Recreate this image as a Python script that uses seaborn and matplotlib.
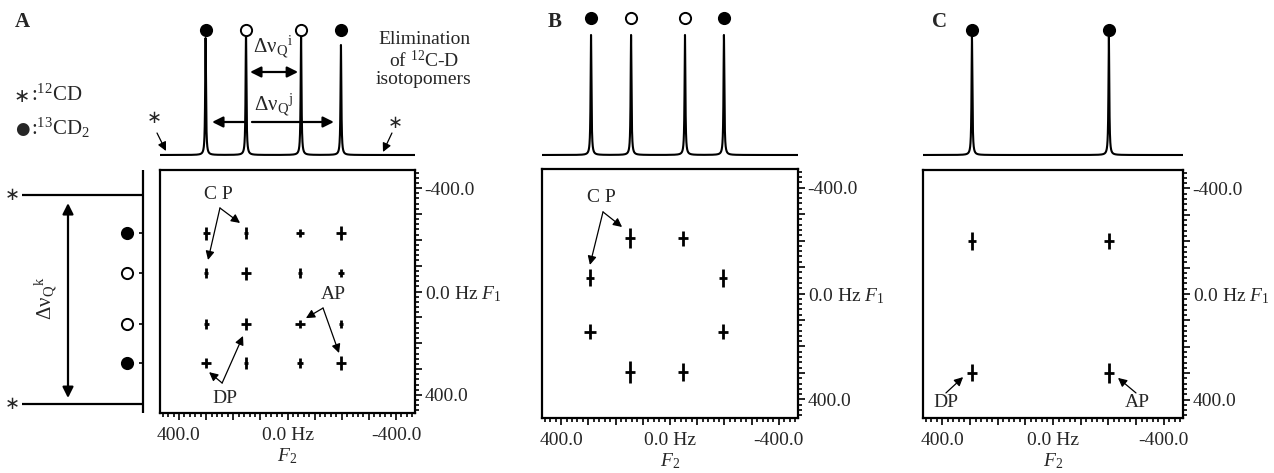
import numpy as np
import pandas as pd
import seaborn as sns
import matplotlib.pyplot as plt
from matplotlib.ticker import MultipleLocator, FuncFormatter

# ---------------- values (Hz) ----------------
# panel A : 4 x 4 pattern of cross peaks
a_f2 = [300, 153, -46, -197]
a_f1 = [-226, -71, 126, 277]
# half length of the cross arms (one row per F1 value)
a_arm_f1 = [[25, 22, 16, 27],
            [19, 25, 19, 16],
            [19, 22, 16, 17],
            [19, 23, 19, 28]]
a_arm_f2 = [[13, 9, 13, 18],
            [8, 17, 9, 11],
            [9, 17, 19, 9],
            [18, 6, 11, 18]]
a_lines = [302, 153, -50, -197]
a_heights = [1.17, 1.24, 1.22, 1.10]
a_filled = [True, False, False, True]
a_12cd_f1 = [-373, 436]

# panel B : 8 cross peaks
b_f2 = [147, -48, 294, -195, 294, -195, 147, -48]
b_f1 = [-209, -209, -59, -59, 145, 145, 296, 296]
b_arm_f1 = [38, 28, 32, 33, 28, 28, 41, 35]
b_arm_f2 = [17, 18, 14, 15, 23, 17, 19, 18]
b_lines = [290, 143, -55, -198]
b_heights = [1.20, 1.20, 1.20, 1.20]
b_filled = [True, False, False, True]

# panel C : 4 cross peaks
c_f2 = [293, -202, 293, -202]
c_f1 = [-201, -201, 299, 299]
c_arm_f1 = [35, 30, 32, 38]
c_arm_f2 = [13, 19, 18, 17]
c_lines = [293, -202]
c_heights = [1.18, 1.18]
c_filled = [True, True]

W, H = 1274, 473
sns.set_style('ticks')
plt.rcParams['font.family'] = ['Liberation Serif', 'DejaVu Sans']
plt.rcParams['mathtext.fontset'] = 'custom'
plt.rcParams['mathtext.rm'] = 'Liberation Serif'
plt.rcParams['mathtext.it'] = 'Liberation Serif:italic'
plt.rcParams['mathtext.bf'] = 'Liberation Serif:bold'
plt.rcParams['axes.unicode_minus'] = False

fig = plt.figure(figsize=(W / 100, H / 100), dpi=100)


def box(l, t, r, b):
    return fig.add_axes([l / W, 1 - b / H, (r - l) / W, (b - t) / H])


def ftext(x, y, s, **kw):
    fig.text(x / W, 1 - y / H, s, **kw)


def spectrum(lines, heights, gamma=1.8):
    x = np.arange(470, -470.01, -0.2)
    y = np.zeros_like(x)
    for x0, h in zip(lines, heights):
        y += h * gamma ** 2 / ((x - x0) ** 2 + gamma ** 2)
    return pd.DataFrame({'Hz': x, 'I': y})


def dots(ax, x, y, filled, s=65):
    df = pd.DataFrame({'x': x, 'y': y, 'filled': filled})
    for f, grp in df.groupby('filled'):
        sns.scatterplot(data=grp, x='x', y='y', ax=ax, s=s, marker='o',
                        facecolor='black' if f else 'white',
                        edgecolor='black', linewidth=1.4, zorder=5, clip_on=False)


def draw_1d(ax, lines, heights, filled, dot_level):
    sns.lineplot(data=spectrum(lines, heights), x='Hz', y='I', ax=ax,
                 color='black', lw=1.5, estimator=None, sort=False)
    dots(ax, lines, [dot_level] * len(lines), filled)
    ax.set_xlim(470, -470)
    ax.set_ylim(-0.05, 1.5)
    ax.axis('off')


def fmt_x(v, p):
    return {400: '400.0', 0: '0.0 Hz', -400: '-400.0'}.get(int(round(v)), '')


def fmt_y(v, p):
    return {400: '400.0', 0: '0.0 Hz $F_1$', -400: '-400.0'}.get(int(round(v)), '')


def setup_2d(ax):
    ax.set_xlim(470, -470)
    ax.set_ylim(470, -470)
    ax.yaxis.tick_right()
    for a in (ax.xaxis, ax.yaxis):
        a.set_major_locator(MultipleLocator(100))
        a.set_minor_locator(MultipleLocator(20))
    ax.xaxis.set_major_formatter(FuncFormatter(fmt_x))
    ax.yaxis.set_major_formatter(FuncFormatter(fmt_y))
    ax.tick_params(which='both', direction='out', width=1.2, labelsize=14,
                   color='black')
    ax.tick_params(axis='x', pad=5)
    ax.tick_params(axis='y', pad=2)
    ax.tick_params(which='major', length=5)
    ax.tick_params(which='minor', length=3)
    for sp in ax.spines.values():
        sp.set_visible(True)
        sp.set_linewidth(1.6)
        sp.set_color('black')
    ax.set_xlabel('$F_2$', fontsize=14, labelpad=2)
    ax.set_ylabel('')


def crosses(ax, x, y, ax_f2, ax_f1):
    ax.errorbar(x, y, xerr=ax_f2, yerr=ax_f1, fmt='none', ecolor='black',
                elinewidth=2.0, capsize=0)


arrow = dict(arrowstyle='-|>', color='black', lw=0.9, mutation_scale=13,
             shrinkA=0, shrinkB=0)
bold_arrow = dict(arrowstyle='-|>', color='black', lw=1.6, mutation_scale=16,
                  shrinkA=0, shrinkB=0)
bold_double = dict(arrowstyle='<|-|>', color='black', lw=1.6, mutation_scale=16,
                   shrinkA=0, shrinkB=0)


def label_arrows(ax, text, pos, start, ends):
    ax.text(pos[0], pos[1], text, ha='center', va='center', fontsize=14)
    for e in ends:
        ax.annotate('', xy=e, xytext=start, arrowprops=arrow)


# ---------------- panel A ----------------
a1 = box(160, 5, 415, 160)
draw_1d(a1, a_lines, a_heights, a_filled, 1.25)
a1.annotate('', xy=(-39, 0.83), xytext=(138, 0.83), arrowprops=bold_double)
a1.text(53, 1.08, 'Δν$_\\mathrm{Q}$$^\\mathrm{i}$', ha='center', va='center', fontsize=15)
a1.text(53, 0.50, 'Δν$_\\mathrm{Q}$$^\\mathrm{j}$', ha='center', va='center', fontsize=15)
a1.annotate('', xy=(278, 0.33), xytext=(157, 0.33), arrowprops=bold_arrow)
a1.annotate('', xy=(-171, 0.33), xytext=(131, 0.33), arrowprops=bold_arrow)
a1.text(492, 0.37, '∗', ha='center', va='center', fontsize=13, clip_on=False)
a1.annotate('', xy=(448, 0.04), xytext=(481, 0.22), arrowprops=arrow, annotation_clip=False)
a1.text(-396, 0.32, '∗', ha='center', va='center', fontsize=13, clip_on=False)
a1.annotate('', xy=(-352, 0.03), xytext=(-385, 0.22), arrowprops=arrow, annotation_clip=False)

a2 = box(160, 170, 415, 413)
grid_f2 = [f for row in a_f1 for f in a_f2]
grid_f1 = [r for r in a_f1 for f in a_f2]
crosses(a2, grid_f2, grid_f1,
        [v for row in a_arm_f2 for v in row], [v for row in a_arm_f1 for v in row])
setup_2d(a2)
label_arrows(a2, 'C P', (256, -377), (249, -323), [(293, -122), (175, -265)])
label_arrows(a2, 'DP', (230, 412), (241, 354), [(289, 312), (164, 172)])
label_arrows(a2, 'AP', (-168, 10), (-131, 64), [(-68, 103), (-190, 238)])

# F1 projection on the left of A
al = box(0, 170, 150, 413)
al.set_xlim(0, 150)
al.set_ylim(470, -470)
al.axis('off')
al.axvline(143, color='black', lw=1.6)
al.hlines(a_12cd_f1, 22, 143, color='black', lw=1.6)
al.hlines(a_f1, 139, 143, color='black', lw=1.2)
dots(al, [127] * 4, a_f1, a_filled)
al.annotate('', xy=(68, 412), xytext=(68, -342), arrowprops=bold_double)
al.text(46, 25, 'Δν$_\\mathrm{Q}$$^\\mathrm{k}$', rotation=90, ha='center',
        va='center', fontsize=15)
for f in a_12cd_f1:
    al.text(12, f, '∗', ha='center', va='center', fontsize=13)

# ---------------- panel B ----------------
b1 = box(542, 5, 798, 160)
draw_1d(b1, b_lines, b_heights, b_filled, 1.37)
b2 = box(542, 169, 798, 418)
crosses(b2, b_f2, b_f1, b_arm_f2, b_arm_f1)
setup_2d(b2)
label_arrows(b2, 'C P', (253, -361), (246, -308), [(294, -108), (176, -251)])

# ---------------- panel C ----------------
c1 = box(923, 5, 1183, 160)
draw_1d(c1, c_lines, c_heights, c_filled, 1.25)
c2 = box(923, 170, 1183, 418)
crosses(c2, c_f2, c_f1, c_arm_f2, c_arm_f1)
setup_2d(c2)
label_arrows(c2, 'DP', (387, 413), (387, 375), [(325, 315)])
label_arrows(c2, 'AP', (-304, 413), (-300, 375), [(-235, 318)])

# ---------------- free text ----------------
ftext(15, 22, 'A', fontsize=15, fontweight='bold', va='center')
ftext(548, 22, 'B', fontsize=15, fontweight='bold', va='center')
ftext(932, 22, 'C', fontsize=15, fontweight='bold', va='center')
ftext(22, 96, '∗', fontsize=14, ha='center', va='center', family=['DejaVu Sans'])
ftext(31, 95, ':$^{12}$CD', fontsize=15, va='center')
ftext(22, 129, '●', fontsize=12, ha='center', va='center', family=['DejaVu Sans'])
ftext(31, 128, ':$^{13}$CD$_2$', fontsize=15, va='center')
ftext(424, 40, 'Elimination', fontsize=14, ha='center', va='center')
ftext(424, 60, 'of $^{12}$C-D', fontsize=14, ha='center', va='center')
ftext(424, 79, 'isotopomers', fontsize=14, ha='center', va='center')

fig.savefig('out.png', dpi=100)
